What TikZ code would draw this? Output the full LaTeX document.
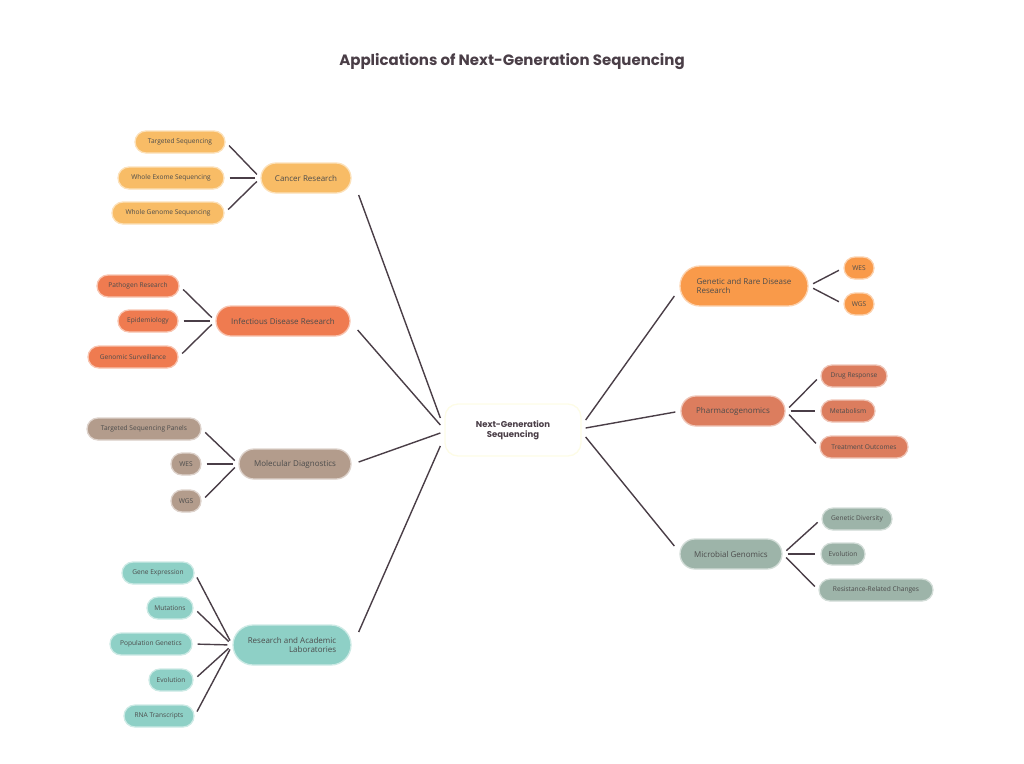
\documentclass[tikz,border=0pt]{standalone}
\usepackage{fontspec}
\setmainfont{Open Sans}
\newfontfamily\titlefont{Poppins}
\begin{document}
\begin{tikzpicture}[x=1pt,y=-1pt,
 b/.style args={#1/#2/#3}{draw=#1!45!white, fill=#1, rounded corners=#3/2, minimum width=#2, minimum height=#3, line width=1.3pt, inner sep=0pt, text=black!70, font=\fontsize{6.6}{7.5}\selectfont},
 m/.style={font=\fontsize{8}{9}\selectfont},
 ln/.style={draw=lnc, line width=1.4pt, shorten <=5pt, shorten >=5pt},
 mln/.style={draw=lnc, line width=1.4pt}]
\definecolor{lnc}{HTML}{4A3E47}
\definecolor{ca}{HTML}{F8BC66}
\definecolor{inf}{HTML}{EF7B50}
\definecolor{mol}{HTML}{B39C8C}
\definecolor{res}{HTML}{8ED0C6}
\definecolor{gen}{HTML}{F99A4A}
\definecolor{pha}{HTML}{DC7D5E}
\definecolor{mic}{HTML}{9DB4A9}
\useasboundingbox (0,0) rectangle (1024,763);
\node[font=\titlefont\bfseries\fontsize{15}{17}\selectfont, text=lnc] (title) at (512,62) {Applications of Next-Generation Sequencing};
\node[draw=black!10!yellow!10!white, line width=1.3pt, fill=white, rounded corners=13, minimum width=136, minimum height=52, align=center, font=\titlefont\bfseries\fontsize{8.5}{10}\selectfont, text=lnc] (c) at (513,430) {Next-Generation\\Sequencing};
% Cancer
\node[b=ca/90/30, m] (cr) at (306,178) {Cancer Research};
\node[b=ca/90/22] (cr1) at (180,142) {Targeted Sequencing};
\node[b=ca/106/22] (cr2) at (171,178) {Whole Exome Sequencing};
\node[b=ca/112/22] (cr3) at (168,213) {Whole Genome Sequencing};
% Infectious
\node[b=inf/134/30, m] (in) at (283,321) {Infectious Disease Research};
\node[b=inf/82/22] (in1) at (138,286) {Pathogen Research};
\node[b=inf/60/22] (in2) at (148,321) {Epidemiology};
\node[b=inf/90/22] (in3) at (133,357) {Genomic Surveillance};
% Molecular
\node[b=mol/112/30, m] (mo) at (295,464) {Molecular Diagnostics};
\node[b=mol/114/22] (mo1) at (144,429) {Targeted Sequencing Panels};
\node[b=mol/30/22] (mo2) at (186,464) {WES};
\node[b=mol/30/22] (mo3) at (186,501) {WGS};
% Research
\node[b=res/118/40, m, align=right] (re) at (292,645) {Research and Academic\\Laboratories};
\node[b=res/72/22] (re1) at (158,573) {Gene Expression};
\node[b=res/46/22] (re2) at (170,608) {Mutations};
\node[b=res/82/22] (re3) at (151,644) {Population Genetics};
\node[b=res/44/22] (re4) at (171,680) {Evolution};
\node[b=res/70/22] (re5) at (159,716) {RNA Transcripts};
% Genetic
\node[b=gen/128/40, m, align=left] (ge) at (744,286) {Genetic and Rare Disease\\Research\hspace*{56pt}};
\node[b=gen/30/22] (ge1) at (859,268) {WES};
\node[b=gen/30/22] (ge2) at (859,304) {WGS};
% Pharmaco
\node[b=pha/104/30, m] (ph) at (733,411) {Pharmacogenomics};
\node[b=pha/66/22] (ph1) at (854,376) {Drug Response};
\node[b=pha/54/22] (ph2) at (848,411) {Metabolism};
\node[b=pha/88/22] (ph3) at (864,447) {Treatment Outcomes};
% Microbial
\node[b=mic/102/30, m] (mi) at (731,554) {Microbial Genomics};
\node[b=mic/70/22] (mi1) at (857,519) {Genetic Diversity};
\node[b=mic/44/22] (mi2) at (843,554) {Evolution};
\node[b=mic/114/22] (mi3) at (876,590) {Resistance-Related Changes};
% main connectors
\draw[mln] ([shift={(-4,-12)}]c.west) -- ([shift={(7,17)}]cr.east);
\draw[mln] ([shift={(-4,-5)}]c.west) -- ([shift={(7,9)}]in.east);
\draw[mln] ([shift={(-4,3)}]c.west) -- ([shift={(7,-2)}]mo.east);
\draw[mln] ([shift={(-4,16)}]c.west) -- ([shift={(7,-13)}]re.east);
\draw[mln] ([shift={(4,-10)}]c.east) -- ([shift={(-5,10)}]ge.west);
\draw[mln] ([shift={(4,-2)}]c.east) -- ([shift={(-5,1)}]ph.west);
\draw[mln] ([shift={(4,7)}]c.east) -- ([shift={(-5,-8)}]mi.west);
% child connectors
\foreach \n in {cr1,cr2,cr3} \draw[ln] (\n.east) -- (cr.west);
\foreach \n in {in1,in2,in3} \draw[ln] (\n.east) -- (in.west);
\foreach \n in {mo1,mo2,mo3} \draw[ln] (\n.east) -- (mo.west);
\foreach \n in {re1,re2,re3,re4,re5} \draw[ln] (\n.east) -- (re.west);
\foreach \n in {ge1,ge2} \draw[ln] (ge.east) -- (\n.west);
\foreach \n in {ph1,ph2,ph3} \draw[ln] (ph.east) -- (\n.west);
\foreach \n in {mi1,mi2,mi3} \draw[ln] (mi.east) -- (\n.west);
\end{tikzpicture}
\end{document}
